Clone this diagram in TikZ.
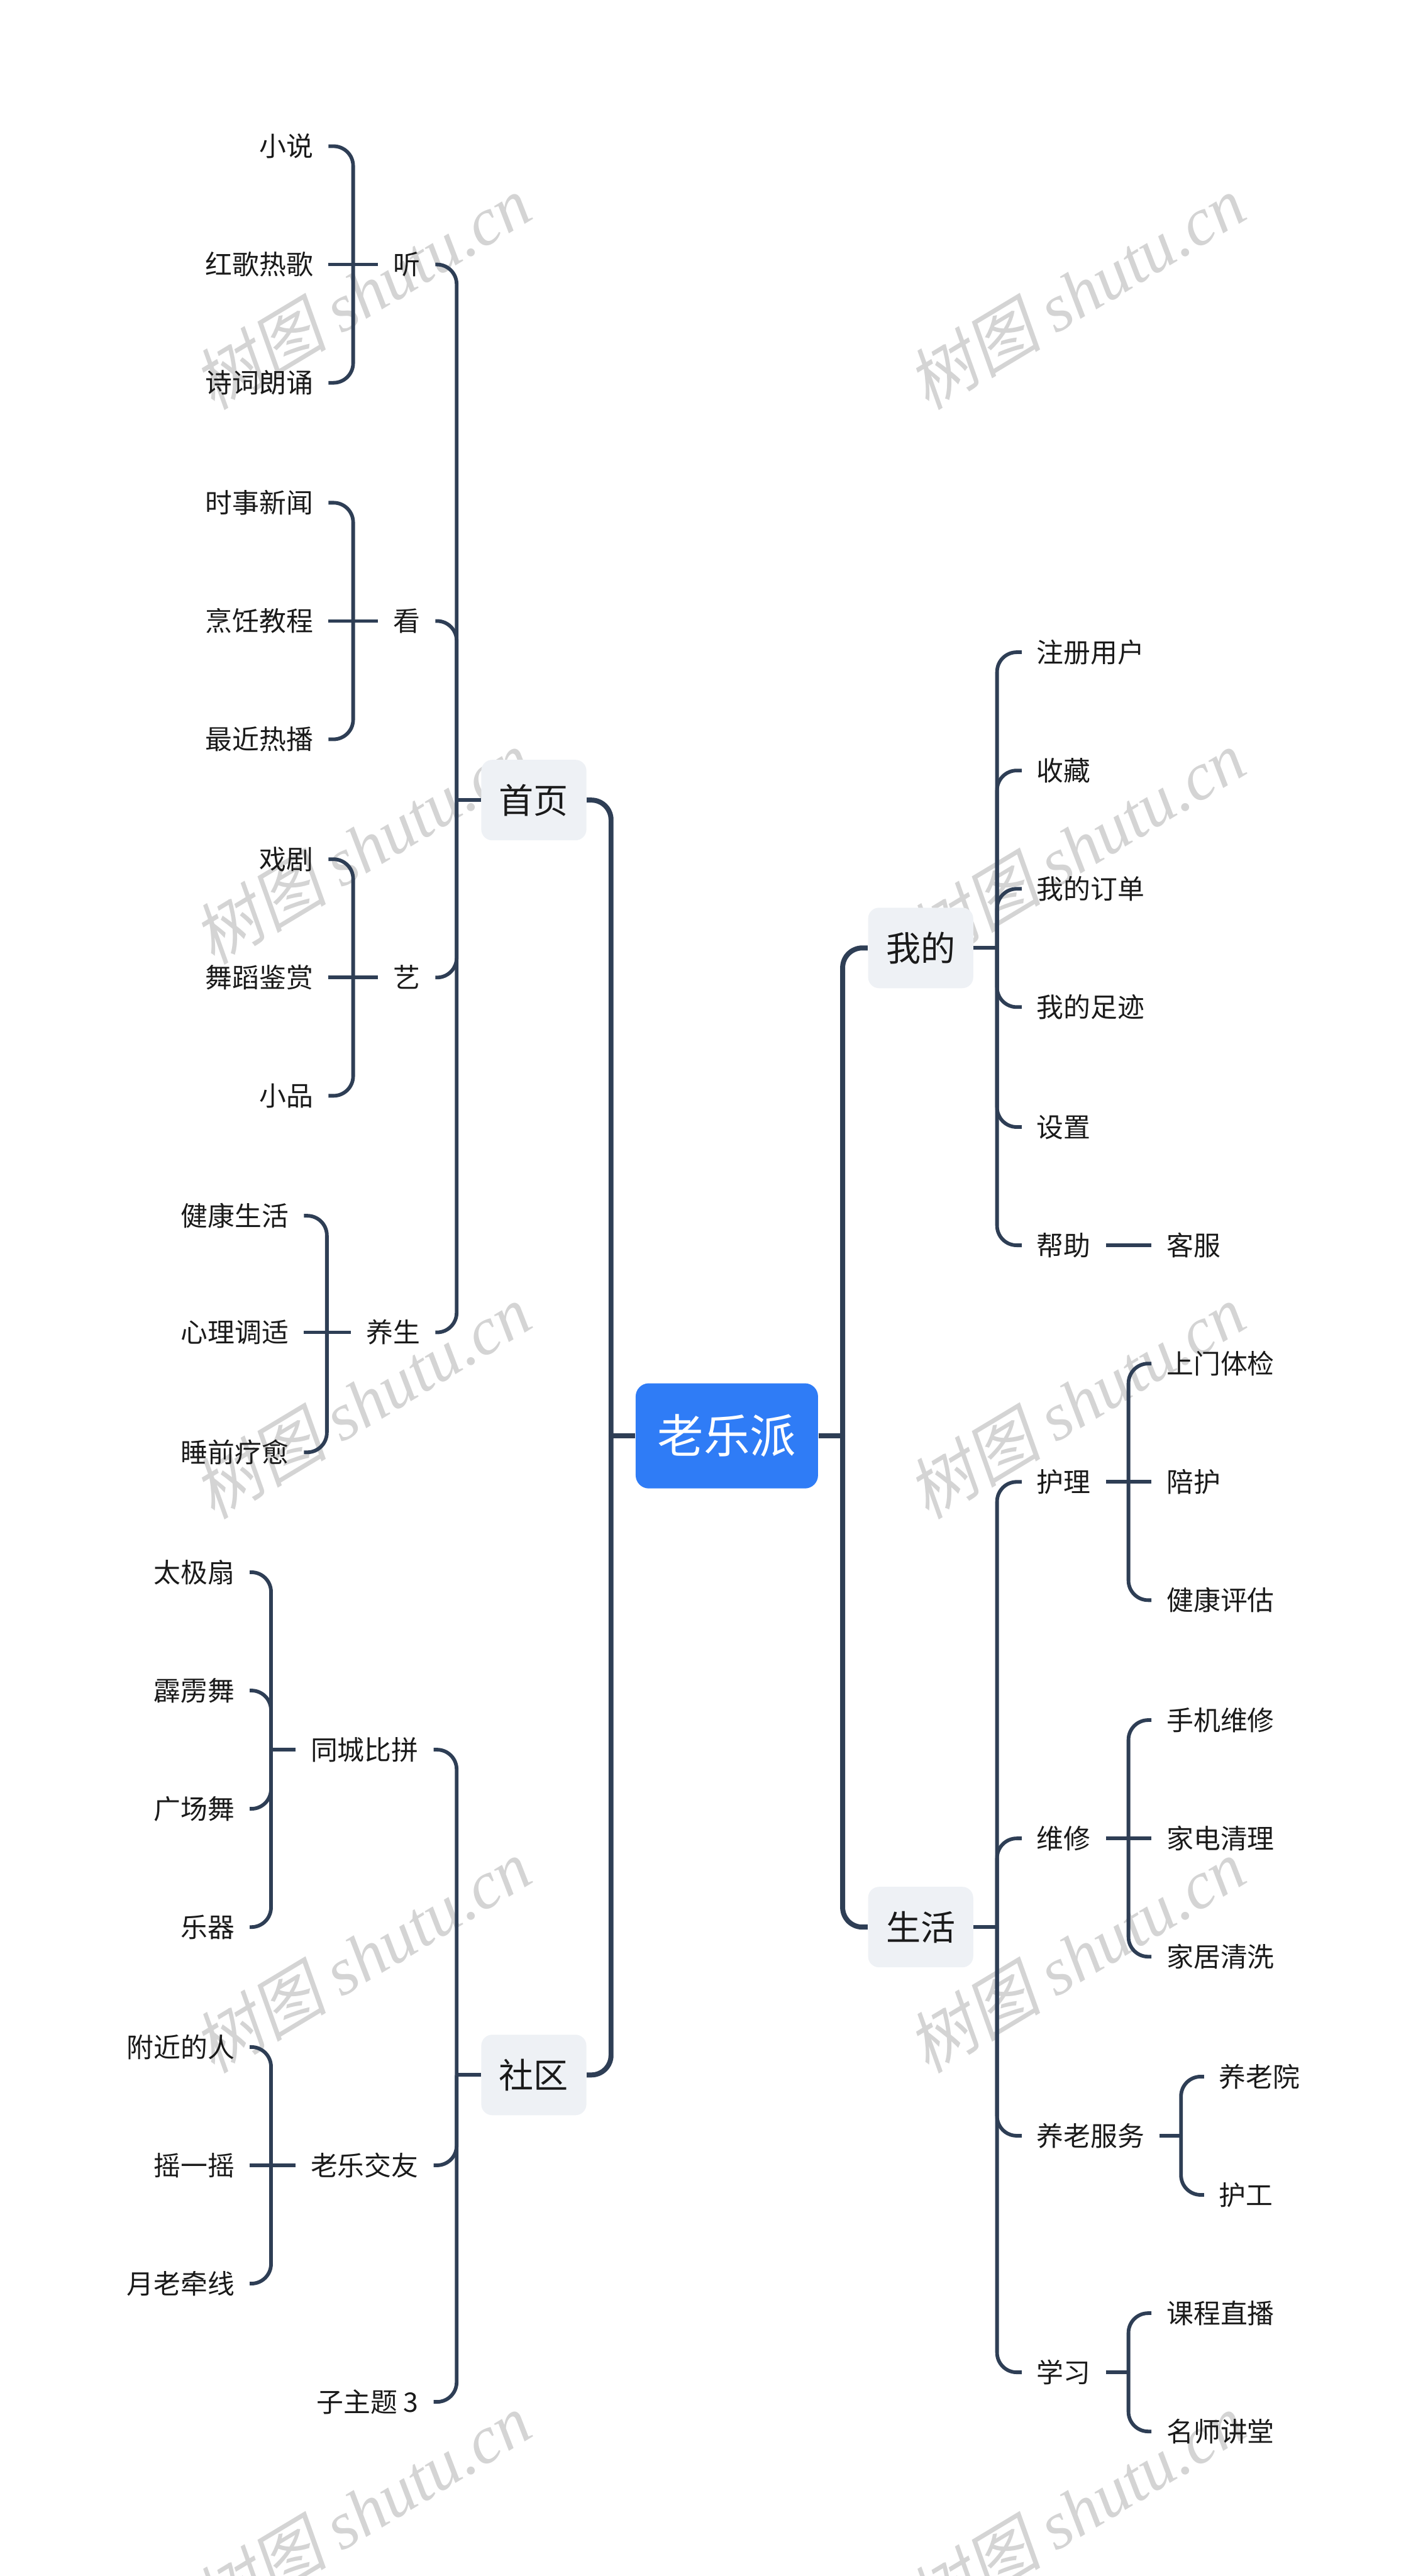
\documentclass[tikz,border=0pt]{standalone}
\usepackage{fontspec}
\setmainfont{Noto Sans CJK SC}
\newfontfamily\wmcjk{Noto Sans CJK SC}[FakeSlant=0.2]
\newfontfamily\wmlatin{Liberation Serif}
\usetikzlibrary{positioning}
\definecolor{RootBlue}{HTML}{2F7CF6}
\definecolor{TopicGray}{HTML}{EEF1F5}
\definecolor{Branch}{HTML}{2E3E55}
\definecolor{Ink}{HTML}{1A1A1A}
\definecolor{MarkGray}{HTML}{D4D4D4}
\tikzset{
  root/.style={fill=RootBlue, rounded corners=0.24cm, text=white,
               minimum width=3.33cm, minimum height=1.92cm,
               text height=19.2pt, text depth=1pt,
               font=\fontsize{24}{29}\selectfont},
  topic/.style={fill=TopicGray, rounded corners=0.2cm, text=Ink,
                minimum width=1.92cm, minimum height=1.47cm,
                text height=14.4pt, text depth=0.7pt,
                font=\fontsize{18}{22}\selectfont},
  leaf/.style={text=Ink, inner xsep=0.27cm, inner ysep=2pt,
               text height=11.2pt, text depth=0.6pt,
               font=\fontsize{14}{17}\selectfont},
  trunk/.style={draw=Branch, line width=2.6pt, rounded corners=0.36cm},
  twig/.style={draw=Branch, line width=1.9pt, rounded corners=0.36cm},
  wmark/.style={text=MarkGray, inner sep=0pt, rotate=31,
                font=\fontsize{35}{40}\selectfont},
}

\begin{document}
\begin{tikzpicture}[x=0.03cm, y=-0.03cm]
  \useasboundingbox (0,0) rectangle (869,1568);
  \clip (0,0) rectangle (869,1568);

  % watermarks
  \foreach \wy [count=\i] in {178,515.5,853,1190.5,1528} {
    \node[wmark] (wmL\i) at (220,\wy) {{\wmcjk 树图} {\wmlatin\itshape shutu.cn}};
    \node[wmark] (wmR\i) at (655,\wy) {{\wmcjk 树图} {\wmlatin\itshape shutu.cn}};
  }

  % centre
  \node[root] (laole) at (442.5,874) {老乐派};

  % left: 首页
  \node[topic] (shouye) at (325,487) {首页};
  \node[leaf, anchor=east] (ting) at (265,161) {听};
  \node[leaf, anchor=east] (kan) at (265,378) {看};
  \node[leaf, anchor=east] (yi) at (265,595) {艺};
  \node[leaf, anchor=east] (yangsheng) at (265,811) {养生};

  \node[leaf, anchor=east] (xiaoshuo) at (200,89) {小说};
  \node[leaf, anchor=east] (hongge) at (200,161) {红歌热歌};
  \node[leaf, anchor=east] (shici) at (200,233) {诗词朗诵};
  \node[leaf, anchor=east] (xinwen) at (200,306) {时事新闻};
  \node[leaf, anchor=east] (pengren) at (200,378) {烹饪教程};
  \node[leaf, anchor=east] (rebo) at (200,450) {最近热播};
  \node[leaf, anchor=east] (xiju) at (200,523) {戏剧};
  \node[leaf, anchor=east] (wudao) at (200,595) {舞蹈鉴赏};
  \node[leaf, anchor=east] (xiaopin) at (200,667) {小品};
  \node[leaf, anchor=east] (jiankang) at (185,740) {健康生活};
  \node[leaf, anchor=east] (xinli) at (185,811) {心理调适};
  \node[leaf, anchor=east] (shuiqian) at (185,884) {睡前疗愈};

  % left: 社区
  \node[topic] (shequ) at (325,1263) {社区};
  \node[leaf, anchor=east] (tongcheng) at (264,1065) {同城比拼};
  \node[leaf, anchor=east] (jiaoyou) at (264,1318) {老乐交友};
  \node[leaf, anchor=east] (zizhuti) at (264,1462) {子主题 3};

  \node[leaf, anchor=east] (taiji) at (152,957) {太极扇};
  \node[leaf, anchor=east] (pili) at (152,1029) {霹雳舞};
  \node[leaf, anchor=east] (guangchang) at (152,1101) {广场舞};
  \node[leaf, anchor=east] (yueqi) at (152,1173) {乐器};
  \node[leaf, anchor=east] (fujin) at (152,1246) {附近的人};
  \node[leaf, anchor=east] (yaoyiyao) at (152,1318) {摇一摇};
  \node[leaf, anchor=east] (yuelao) at (152,1390) {月老牵线};

  % right: 我的
  \node[topic] (wode) at (560.5,577) {我的};
  \node[leaf, anchor=west] (zhuce) at (622,397) {注册用户};
  \node[leaf, anchor=west] (shoucang) at (622,469) {收藏};
  \node[leaf, anchor=west] (dingdan) at (622,541) {我的订单};
  \node[leaf, anchor=west] (zuji) at (622,613) {我的足迹};
  \node[leaf, anchor=west] (shezhi) at (622,686) {设置};
  \node[leaf, anchor=west] (bangzhu) at (622,758) {帮助};
  \node[leaf, anchor=west] (kefu) at (701,758) {客服};

  % right: 生活
  \node[topic] (shenghuo) at (560.5,1173) {生活};
  \node[leaf, anchor=west] (huli) at (622,902) {护理};
  \node[leaf, anchor=west] (weixiu) at (622,1119) {维修};
  \node[leaf, anchor=west] (yanglao) at (622,1300) {养老服务};
  \node[leaf, anchor=west] (xuexi) at (622,1444) {学习};

  \node[leaf, anchor=west] (tijian) at (701,830) {上门体检};
  \node[leaf, anchor=west] (peihu) at (701,902) {陪护};
  \node[leaf, anchor=west] (pinggu) at (701,974) {健康评估};
  \node[leaf, anchor=west] (shouji) at (701,1047) {手机维修};
  \node[leaf, anchor=west] (jiadian) at (701,1119) {家电清理};
  \node[leaf, anchor=west] (jiaju) at (701,1191) {家居清洗};
  \node[leaf, anchor=west] (yanglaoyuan) at (733,1264) {养老院};
  \node[leaf, anchor=west] (hugong) at (733,1336) {护工};
  \node[leaf, anchor=west] (zhibo) at (701,1408) {课程直播};
  \node[leaf, anchor=west] (jiangtang) at (701,1480) {名师讲堂};

  % junctions
  \coordinate (jL) at (372,874);
  \coordinate (jR) at (513,874);
  \coordinate (jShouye) at (278,487);
  \coordinate (jShequ) at (278,1263);
  \coordinate (jWode) at (607,577);
  \coordinate (jShenghuo) at (607,1173);
  \coordinate (jTing) at (215,161);
  \coordinate (jKan) at (215,378);
  \coordinate (jYi) at (215,595);
  \coordinate (jYangsheng) at (199,811);
  \coordinate (jTongcheng) at (165,1065);
  \coordinate (jJiaoyou) at (165,1318);
  \coordinate (jHuli) at (687,902);
  \coordinate (jWeixiu) at (687,1119);
  \coordinate (jYanglao) at (719,1300);
  \coordinate (jXuexi) at (687,1444);

  % main branches
  \draw[trunk] (laole.west) -- (jL);
  \foreach \c in {shouye,shequ} \draw[trunk] (jL) |- (\c.east);
  \draw[trunk] (laole.east) -- (jR);
  \foreach \c in {wode,shenghuo} \draw[trunk] (jR) |- (\c.west);

  % second level
  \draw[twig] (shouye.west) -- (jShouye);
  \foreach \c in {ting,kan,yi,yangsheng} \draw[twig] (jShouye) |- (\c.east);
  \draw[twig] (shequ.west) -- (jShequ);
  \foreach \c in {tongcheng,jiaoyou,zizhuti} \draw[twig] (jShequ) |- (\c.east);
  \draw[twig] (wode.east) -- (jWode);
  \foreach \c in {zhuce,shoucang,dingdan,zuji,shezhi,bangzhu} \draw[twig] (jWode) |- (\c.west);
  \draw[twig] (shenghuo.east) -- (jShenghuo);
  \foreach \c in {huli,weixiu,yanglao,xuexi} \draw[twig] (jShenghuo) |- (\c.west);

  % third level, left
  \draw[twig] (ting.west) -- (hongge.east);
  \foreach \c in {xiaoshuo,shici} \draw[twig] (jTing) |- (\c.east);
  \draw[twig] (kan.west) -- (pengren.east);
  \foreach \c in {xinwen,rebo} \draw[twig] (jKan) |- (\c.east);
  \draw[twig] (yi.west) -- (wudao.east);
  \foreach \c in {xiju,xiaopin} \draw[twig] (jYi) |- (\c.east);
  \draw[twig] (yangsheng.west) -- (xinli.east);
  \foreach \c in {jiankang,shuiqian} \draw[twig] (jYangsheng) |- (\c.east);
  \draw[twig] (tongcheng.west) -- (jTongcheng);
  \foreach \c in {taiji,pili,guangchang,yueqi} \draw[twig] (jTongcheng) |- (\c.east);
  \draw[twig] (jiaoyou.west) -- (yaoyiyao.east);
  \foreach \c in {fujin,yuelao} \draw[twig] (jJiaoyou) |- (\c.east);

  % third level, right
  \draw[twig] (bangzhu.east) -- (kefu.west);
  \draw[twig] (huli.east) -- (peihu.west);
  \foreach \c in {tijian,pinggu} \draw[twig] (jHuli) |- (\c.west);
  \draw[twig] (weixiu.east) -- (jiadian.west);
  \foreach \c in {shouji,jiaju} \draw[twig] (jWeixiu) |- (\c.west);
  \draw[twig] (yanglao.east) -- (jYanglao);
  \foreach \c in {yanglaoyuan,hugong} \draw[twig] (jYanglao) |- (\c.west);
  \draw[twig] (xuexi.east) -- (jXuexi);
  \foreach \c in {zhibo,jiangtang} \draw[twig] (jXuexi) |- (\c.west);
\end{tikzpicture}
\end{document}
